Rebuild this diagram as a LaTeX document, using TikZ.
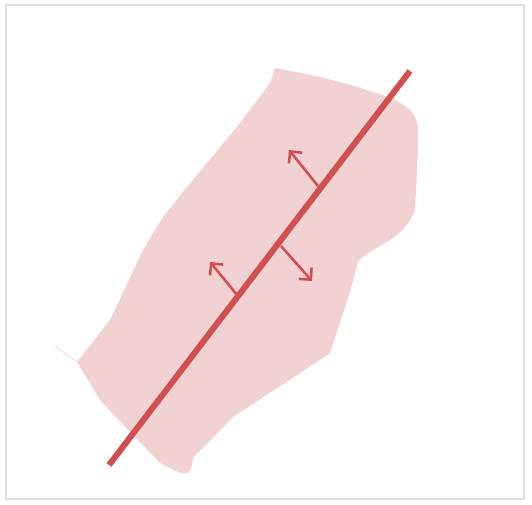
\documentclass[tikz,border=0pt]{standalone}
\usetikzlibrary{arrows.meta}
\definecolor{fillpink}{HTML}{F2D1D2}
\definecolor{linered}{HTML}{D24F50}
\begin{document}
\begin{tikzpicture}[x=1pt,y=-1pt,
  normalarrow/.style={linered,line width=2.6pt,-{Straight Barb[length=8.5pt,width=17pt,line width=2.6pt]}}]
\useasboundingbox (0,0) rectangle (532,504);
\fill[white] (0,0) rectangle (532,504);
\draw[black!12,line width=1.2pt] (6,5) rectangle (524,499);
% region
\fill[fillpink] (275,68) .. controls (320,76) and (360,86) .. (395,100)
  .. controls (410,108) and (417,115) .. (418,128)
  -- (418,150) -- (415,210) .. controls (408,228) and (395,238) .. (380,246)
  .. controls (370,252) and (362,256) .. (358,262)
  -- (350,292) -- (330,353) -- (300,373) -- (233,417) -- (193,458)
  -- (191,470) .. controls (188,474) and (182,474) .. (178,472)
  -- (160,463) -- (130,432) -- (100,400) -- (77,362)
  -- (110,320) -- (143,250) -- (163,217) -- (187,187) -- (240,123) -- (270,83) -- cycle;
\draw[fillpink!70,line width=1pt] (55,346) -- (77,362);
% line
\coordinate (a) at (109,465);
\coordinate (b) at (410,71);
\draw[linered,line width=6pt] (a) -- (b);
% arrows
\coordinate (p1) at (318,186);
\coordinate (q1) at (289,150);
\coordinate (p2) at (238,296);
\coordinate (q2) at (210,262);
\coordinate (p3) at (281,246);
\coordinate (q3) at (312,281);
\draw[normalarrow] (p1) -- (q1);
\draw[normalarrow] (p2) -- (q2);
\draw[normalarrow] (p3) -- (q3);
\end{tikzpicture}
\end{document}
